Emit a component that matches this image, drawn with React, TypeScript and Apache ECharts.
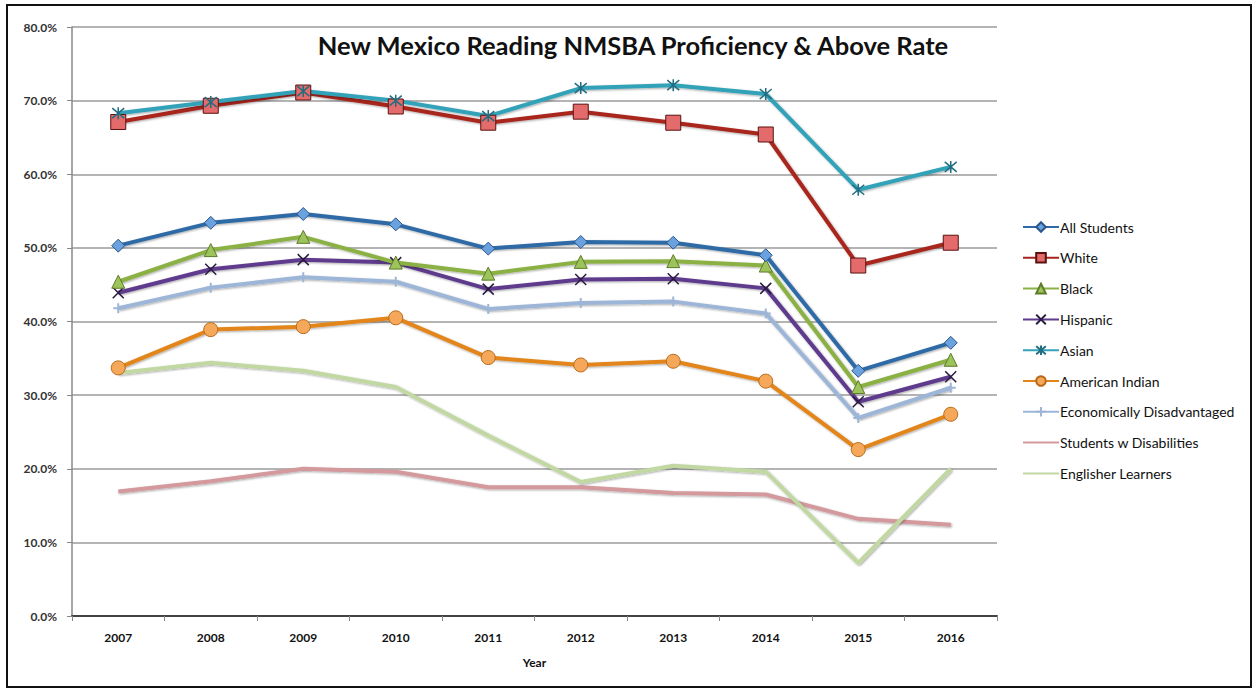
import React, { useEffect, useRef } from "react";
import * as echarts from "echarts";

const years = ["2007", "2008", "2009", "2010", "2011", "2012", "2013", "2014", "2015", "2016"];
const yTicks = [0, 0.1, 0.2, 0.3, 0.4, 0.5, 0.6, 0.7, 0.8];

const allStudents = [50.3, 53.4, 54.6, 53.2, 49.9, 50.8, 50.7, 49.0, 33.3, 37.1];
const white = [67.1, 69.3, 71.1, 69.2, 67.0, 68.5, 67.0, 65.4, 47.6, 50.7];
const black = [45.4, 49.7, 51.5, 48.0, 46.5, 48.1, 48.2, 47.6, 31.1, 34.8];
const hispanic = [43.9, 47.1, 48.4, 48.0, 44.4, 45.7, 45.8, 44.5, 29.1, 32.5];
const asian = [68.3, 69.8, 71.3, 70.0, 67.9, 71.7, 72.1, 70.9, 57.9, 61.0];
const americanIndian = [33.7, 38.9, 39.3, 40.5, 35.1, 34.1, 34.6, 31.9, 22.6, 27.4];
const econDisadv = [41.8, 44.6, 46.0, 45.4, 41.7, 42.5, 42.7, 41.1, 26.9, 31.0];
const swd = [16.9, 18.3, 20.0, 19.6, 17.5, 17.5, 16.7, 16.5, 13.2, 12.4];
const englishLearners = [33.0, 34.4, 33.3, 31.1, 24.5, 18.2, 20.4, 19.6, 7.2, 20.0];

const X_PATH = "path://M0,0L10,10M10,0L0,10";
const STAR_PATH = "path://M0,0L10,10M10,0L0,10M5,-1L5,11";
const PLUS_PATH = "path://M5,0L5,10M0,5L10,5";

function toFrac(arr: number[]) {
  return arr.map((v) => v / 100);
}

export default function App() {
  const ref = useRef<HTMLDivElement>(null);
  useEffect(() => {
    if (!ref.current) return;
    const chart = echarts.init(ref.current, null, { renderer: "svg" });
    const shadow = { shadowColor: "rgba(0,0,0,0.35)", shadowBlur: 2, shadowOffsetX: 1, shadowOffsetY: 1 };
    const mk = (
      name: string,
      data: number[],
      color: string,
      symbol: string,
      symbolSize: number,
      markerFill: string,
      markerBorder: string,
      borderWidth: number,
      width: number
    ) => ({
      name,
      type: "line",
      data: toFrac(data),
      symbol: symbol === "none" ? "circle" : symbol,
      symbolSize: symbol === "none" ? 0 : symbolSize,
      showSymbol: symbol !== "none",
      lineStyle: { color, width, ...shadow },
      itemStyle: { color: markerFill, borderColor: markerBorder, borderWidth },
      z: 2,
    });
    const series = [
      mk("Students w Disabilities", swd, "#D4999D", "none", 0, "#D4999D", "#D4999D", 0, 4),
      mk("Englisher Learners", englishLearners, "#C2D8A3", "none", 0, "#C2D8A3", "#C2D8A3", 0, 4),
      mk("Economically Disadvantaged", econDisadv, "#9DB6D8", PLUS_PATH, 10, "#9DB6D8", "#9DB6D8", 2, 4),
      mk("American Indian", americanIndian, "#E2861C", "circle", 14, "#F6A85A", "#B86A1A", 1, 4),
      mk("Hispanic", hispanic, "#5F3B8D", X_PATH, 11, "#3A2556", "#2A1A40", 1.5, 4),
      mk("Black", black, "#8BB144", "triangle", 13, "#9DC45A", "#5E7A2A", 1, 4),
      mk("All Students", allStudents, "#2F6BA6", "diamond", 13, "#6AA2E0", "#2A568A", 1, 4),
      mk("White", white, "#A8251F", "rect", 15, "#E36B6B", "#5A1010", 1, 4),
      mk("Asian", asian, "#33A2B8", STAR_PATH, 12, "#33A2B8", "#206E80", 1.5, 4),
    ];
    const legendOrder = [
      "All Students",
      "White",
      "Black",
      "Hispanic",
      "Asian",
      "American Indian",
      "Economically Disadvantaged",
      "Students w Disabilities",
      "Englisher Learners",
    ];
    const noMarker = ["Students w Disabilities", "Englisher Learners"];
    chart.setOption({
      animation: false,
      backgroundColor: "#ffffff",
      textStyle: { fontFamily: "Lato" },
      title: {
        text: "New Mexico Reading NMSBA Proficiency & Above Rate",
        left: 628,
        textAlign: "center",
        top: 27,
        textStyle: { fontFamily: "Lato", fontWeight: "bold", fontSize: 25.5, color: "#111" },
      },
      legend: {
        data: legendOrder.map((n) => (noMarker.includes(n) ? { name: n, itemStyle: { opacity: 0 } } : { name: n })),
        orient: "vertical",
        left: 1017,
        top: 215,
        itemWidth: 36,
        itemHeight: 12,
        itemGap: 16.8,
        textStyle: { fontFamily: "Lato", fontSize: 14, color: "#111", padding: [0, 0, 0, -4] },
      },
      grid: { left: 72, right: 257, top: 27, bottom: 73, containLabel: false },
      xAxis: {
        type: "category",
        data: years,
        boundaryGap: true,
        name: "Year",
        nameLocation: "middle",
        nameGap: 40,
        nameTextStyle: { fontFamily: "Lato", fontWeight: "bold", fontSize: 12, color: "#111" },
        axisLine: { lineStyle: { color: "#444", width: 2 } },
        axisTick: { show: true, alignWithLabel: false, length: 5, lineStyle: { color: "#888" } },
        axisLabel: { fontFamily: "Lato", fontWeight: "bold", fontSize: 12, color: "#111", margin: 15 },
      },
      yAxis: {
        type: "value",
        min: 0,
        max: 0.8,
        interval: 0.1,
        axisLine: { show: true, lineStyle: { color: "#888", width: 1.5 } },
        axisTick: { show: true, length: 5, lineStyle: { color: "#888" } },
        axisLabel: {
          fontFamily: "Lato",
          fontWeight: "bold",
          fontSize: 12,
          color: "#333",
          margin: 15,
          formatter: (v: number) => (yTicks.some((t) => Math.abs(t - v) < 1e-9) ? (v * 100).toFixed(1) + "%" : ""),
        },
        splitLine: { show: true, lineStyle: { color: "#B4B4B4", width: 2 } },
      },
      graphic: [
        {
          type: "rect",
          shape: { x: 7, y: 5, width: 1244, height: 682 },
          style: { fill: "none", stroke: "#111", lineWidth: 2 },
          silent: true,
          z: 100,
        },
      ],
      series,
    });
    return () => chart.dispose();
  }, []);
  return (
    <div
      ref={ref}
      style={{ position: "fixed", left: 0, top: 0, width: 1254, height: 689, background: "#fff" }}
    />
  );
}
